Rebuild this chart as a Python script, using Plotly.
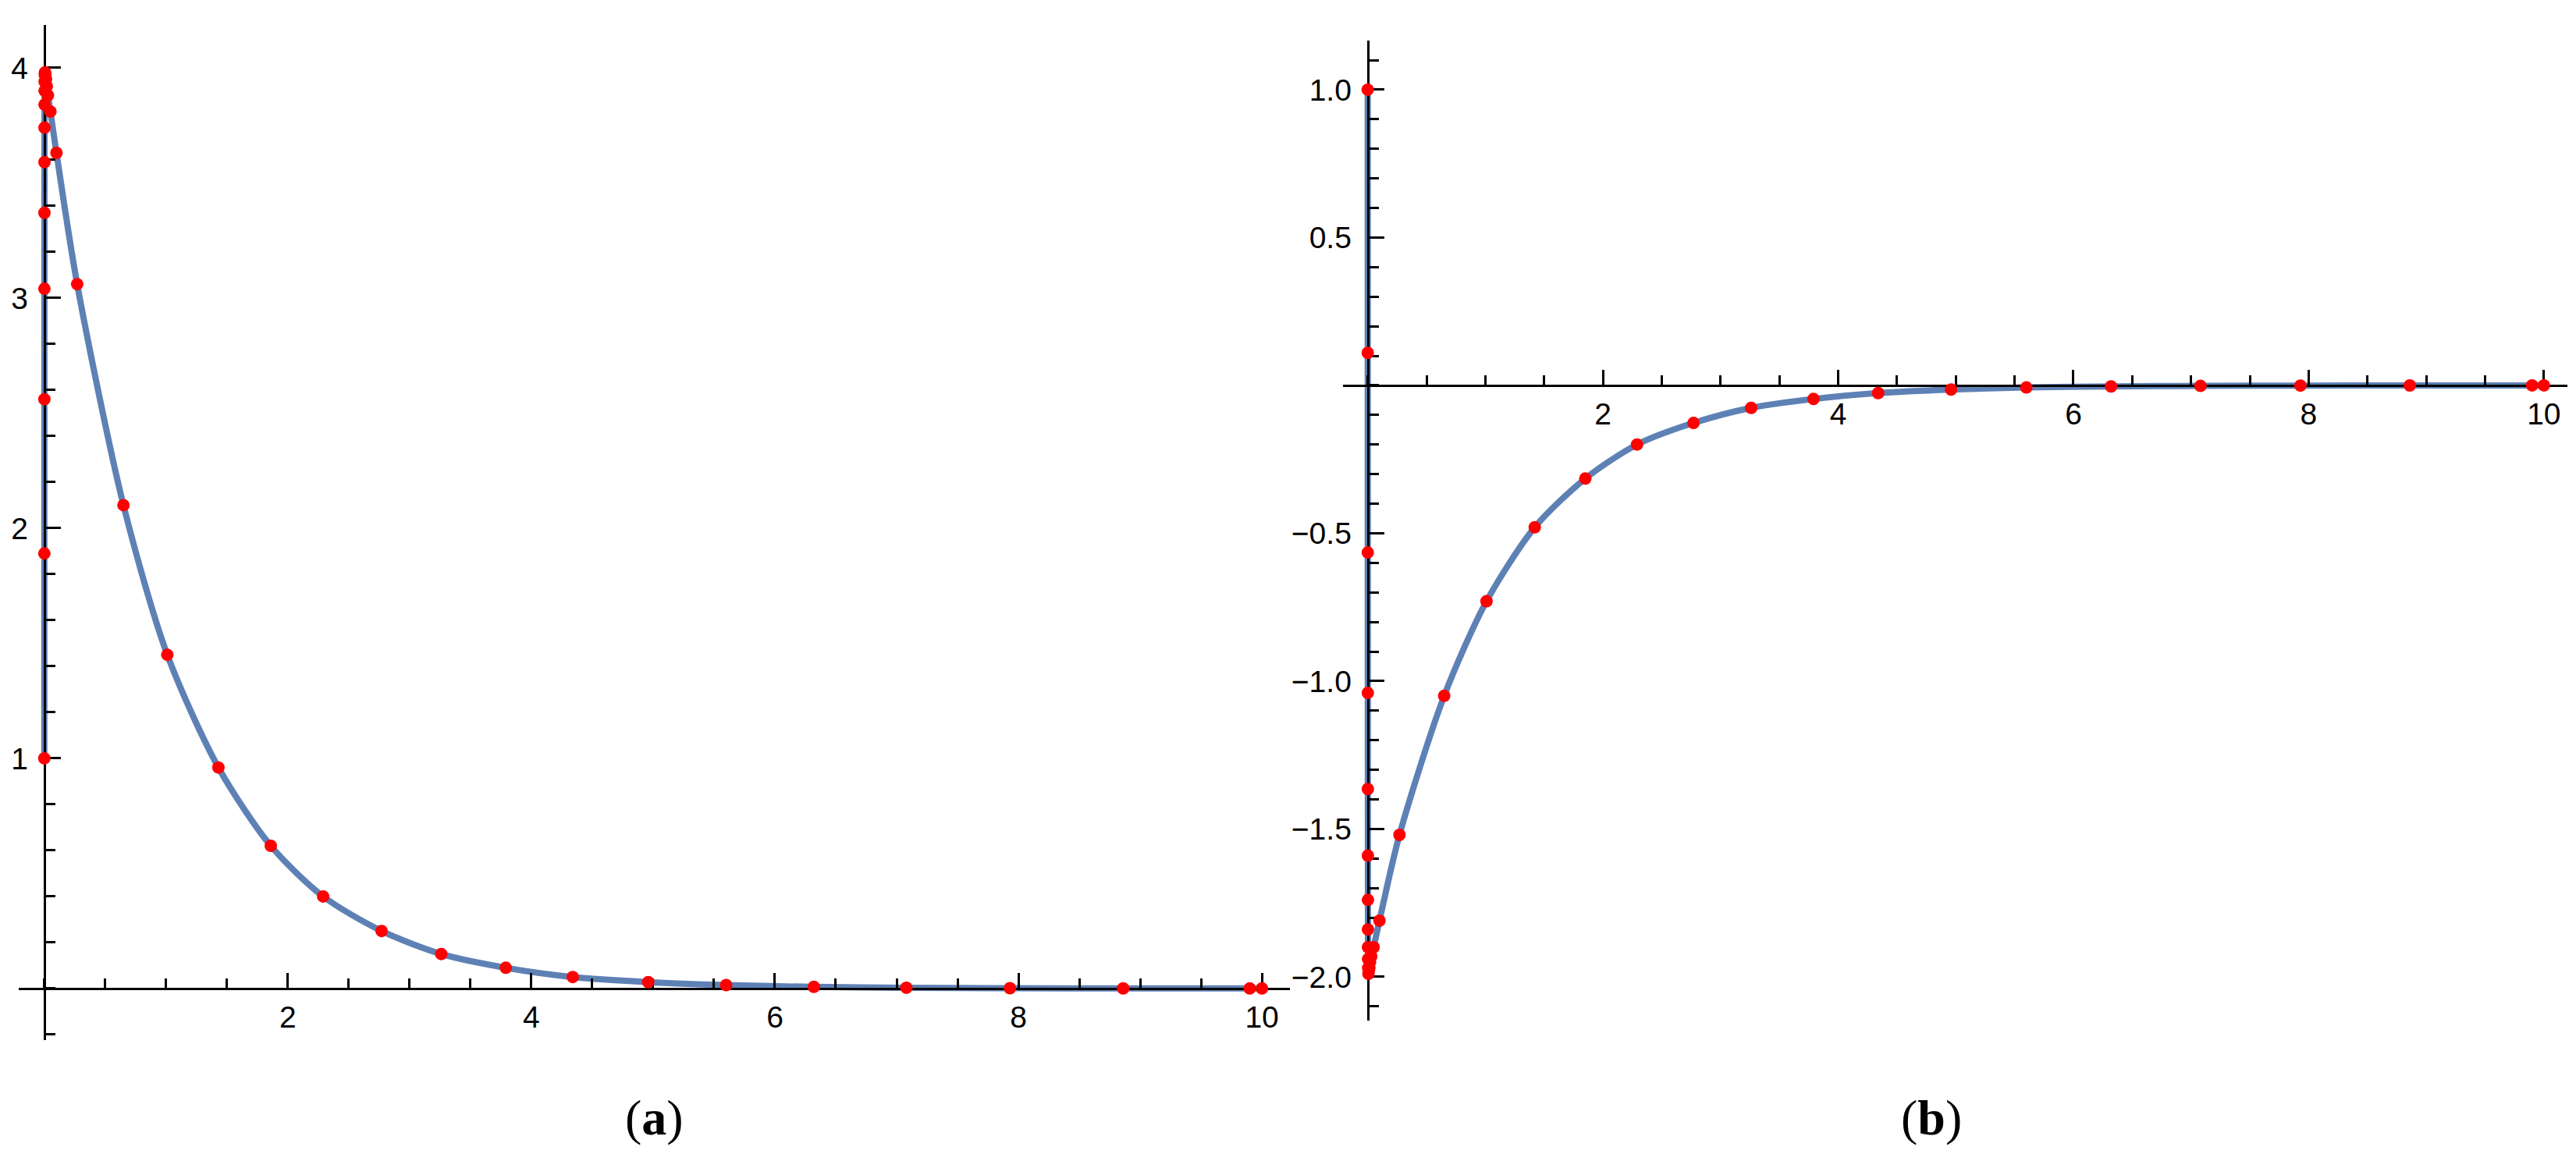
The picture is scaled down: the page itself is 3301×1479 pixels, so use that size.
import plotly.graph_objects as go

# ---------------- data ----------------
x_a = [0.0, 0.0003, 0.0006, 0.0009, 0.0012, 0.0015, 0.0018, 0.0021, 0.0025, 0.003,
       0.004, 0.006, 0.009, 0.014, 0.02, 0.03, 0.05, 0.1, 0.27, 0.65,
       1.01, 1.43, 1.86, 2.29, 2.77, 3.26, 3.79, 4.34, 4.96, 5.6,
       6.32, 7.08, 7.93, 8.86, 9.9, 10.0]
y_a = [1.0, 1.89, 2.56, 3.04, 3.37, 3.59, 3.74, 3.84, 3.90, 3.94,
       3.97, 3.98, 3.97, 3.95, 3.92, 3.88, 3.81, 3.63, 3.06, 2.10,
       1.45, 0.96, 0.62, 0.40, 0.25, 0.15, 0.09, 0.05, 0.028, 0.015,
       0.007, 0.0034, 0.0014, 0.0006, 0.0002, 0.0002]

x_b = [0.0, 0.0003, 0.0006, 0.0009, 0.0012, 0.0015, 0.0018, 0.0021, 0.0025, 0.003,
       0.004, 0.006, 0.009, 0.014, 0.02, 0.03, 0.05, 0.1, 0.27, 0.65,
       1.01, 1.42, 1.85, 2.29, 2.77, 3.26, 3.79, 4.34, 4.96, 5.6,
       6.32, 7.08, 7.93, 8.86, 9.9, 10.0]
y_b = [1.0, 0.11, -0.565, -1.04, -1.365, -1.59, -1.74, -1.84, -1.90, -1.94,
       -1.97, -1.99, -1.98, -1.97, -1.95, -1.93, -1.90, -1.81, -1.52, -1.05,
       -0.73, -0.48, -0.315, -0.20, -0.127, -0.076, -0.046, -0.026, -0.014, -0.007,
       -0.0036, -0.0017, -0.0007, -0.0003, -0.0001, -0.0001]

xtick_vals = [2, 4, 6, 8, 10]
xtick_text = ["2", "4", "6", "8", "10"]
ytick_vals_a = [1, 2, 3, 4]
ytick_text_a = ["1", "2", "3", "4"]
ytick_vals_b = [-2.0, -1.5, -1.0, -0.5, 0.5, 1.0]
ytick_text_b = ["\u22122.0", "\u22121.5", "\u22121.0", "\u22120.5", "0.5", "1.0"]
panel_labels = ["(<b>a</b>)", "(<b>b</b>)"]

# ---------------- layout geometry (pixels) ----------------
W, H = 3301, 1479
LINE_COLOR = "#5E81B5"
DOT_COLOR = "#FF0000"
TICK_FONT = dict(family="Liberation Sans, Arial, sans-serif", size=39, color="black")

panels = [
    dict(px=(16, 1645), py=(24, 1325), xr=[-0.21, 10.23], yr=[-0.224, 4.186],
         x=x_a, y=y_a, yv=ytick_vals_a, yt=ytick_text_a, ydt=0.2, lab=(830, 1424)),
    dict(px=(1713, 3282), py=(44, 1300), xr=[-0.21, 10.2], yr=[-2.148, 1.166],
         x=x_b, y=y_b, yv=ytick_vals_b, yt=ytick_text_b, ydt=0.1, lab=(2467, 1424)),
]

fig = go.Figure()
layout = dict(
    width=W, height=H, margin=dict(l=0, r=0, t=0, b=0),
    paper_bgcolor="white", plot_bgcolor="rgba(0,0,0,0)", showlegend=False,
    annotations=[],
)

for i, p in enumerate(panels):
    xd = [p["px"][0] / W, p["px"][1] / W]
    yd = [(H - p["py"][1]) / H, (H - p["py"][0]) / H]
    xr, yr = p["xr"], p["yr"]
    # paper position of the data origin (axes cross at 0)
    xpos = yd[0] + (0 - yr[0]) / (yr[1] - yr[0]) * (yd[1] - yd[0])
    ypos = xd[0] + (0 - xr[0]) / (xr[1] - xr[0]) * (xd[1] - xd[0])

    n_line = i + 1          # subplot with axes + line
    n_dot = i + 3           # overlaid subplot for dots (drawn on top of axes)
    xl = "x" if n_line == 1 else f"x{n_line}"
    yl = "y" if n_line == 1 else f"y{n_line}"
    xk = "xaxis" if n_line == 1 else f"xaxis{n_line}"
    yk = "yaxis" if n_line == 1 else f"yaxis{n_line}"

    layout[xk] = dict(
        domain=xd, range=xr, anchor="free", position=xpos,
        showline=True, linecolor="black", linewidth=3,
        showgrid=False, zeroline=False,
        tickmode="array", tickvals=xtick_vals, ticktext=xtick_text,
        ticks="inside", ticklen=19, tickwidth=3, tickcolor="black",
        tickfont=TICK_FONT, ticklabelstandoff=1,
        minor=dict(tickmode="linear", tick0=0, dtick=0.5, ticks="inside",
                   ticklen=12, tickwidth=3, tickcolor="black", showgrid=False),
        layer="above traces", fixedrange=True,
    )
    layout[yk] = dict(
        domain=yd, range=yr, anchor="free", position=ypos,
        showline=True, linecolor="black", linewidth=3,
        showgrid=False, zeroline=False,
        tickmode="array", tickvals=p["yv"], ticktext=p["yt"],
        ticks="inside", ticklen=19, tickwidth=3, tickcolor="black",
        tickfont=TICK_FONT, ticklabelstandoff=12,
        minor=dict(tickmode="linear", tick0=0, dtick=p["ydt"], ticks="inside",
                   ticklen=12, tickwidth=3, tickcolor="black", showgrid=False),
        layer="above traces", fixedrange=True,
    )
    fig.add_trace(go.Scatter(
        x=p["x"], y=p["y"], mode="lines", xaxis=xl, yaxis=yl,
        line=dict(color=LINE_COLOR, width=8, shape="spline", smoothing=0.8),
        hoverinfo="skip",
    ))

    xk2, yk2 = f"xaxis{n_dot}", f"yaxis{n_dot}"
    layout[xk2] = dict(domain=xd, range=xr, anchor=f"y{n_dot}", visible=False,
                       showgrid=False, zeroline=False, fixedrange=True)
    layout[yk2] = dict(domain=yd, range=yr, anchor=f"x{n_dot}", visible=False,
                       showgrid=False, zeroline=False, fixedrange=True)
    fig.add_trace(go.Scatter(
        x=p["x"], y=p["y"], mode="markers", xaxis=f"x{n_dot}", yaxis=f"y{n_dot}",
        marker=dict(color=DOT_COLOR, size=16, line=dict(width=0)),
        cliponaxis=False, hoverinfo="skip",
    ))

    layout["annotations"].append(dict(
        text=panel_labels[i], xref="paper", yref="paper",
        x=p["lab"][0] / W, y=(H - p["lab"][1]) / H,
        xanchor="center", yanchor="middle", showarrow=False,
        font=dict(family="Liberation Serif, Times New Roman, serif", size=64, color="black"),
    ))

fig.update_layout(**layout)
fig.write_html("out.html")
